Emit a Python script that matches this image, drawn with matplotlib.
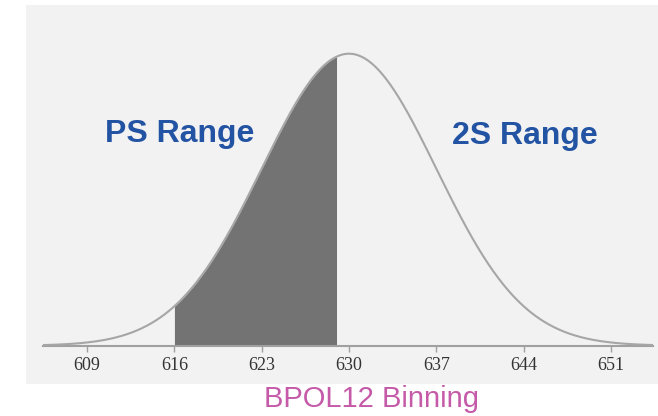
import numpy as np
import matplotlib
matplotlib.use("Agg")
import matplotlib.pyplot as plt

# ---- data ----
MEAN        = 630
SIGMA       = 7
SHADE_RANGE = [616, 629]
TICKS       = [609, 616, 623, 630, 637, 644, 651]
TICK_LABELS = ["609", "616", "623", "630", "637", "644", "651"]
LEFT_LABEL  = "PS Range"
RIGHT_LABEL = "2S Range"
XLABEL      = "BPOL12 Binning"
# --------------

W, H = 658, 416
fig = plt.figure(figsize=(W / 100, H / 100), dpi=100)

# light gray panel behind the chart
bg = fig.add_axes([26 / W, (H - 384) / H, (W - 26) / W, (384 - 5) / H], zorder=-5)
bg.set_facecolor("#f2f2f2")
bg.axis("off")
bg.add_patch(plt.Rectangle((0, 0), 1, 1, transform=bg.transAxes,
                           facecolor="#f2f2f2", edgecolor="none"))

ax_bottom = (H - 345.7) / H
ax_height = 292 * 1.1 / H
ax = fig.add_axes([43 / W, ax_bottom, (653 - 43) / W, ax_height], zorder=1)
ax.set_facecolor("none")

x_lo = MEAN + (43 - 349) / 12.47
x_hi = MEAN + (653 - 349) / 12.47
x = np.linspace(x_lo, x_hi, 600)
y = np.exp(-0.5 * ((x - MEAN) / SIGMA) ** 2)

xs = np.linspace(SHADE_RANGE[0], SHADE_RANGE[1], 300)
ys = np.exp(-0.5 * ((xs - MEAN) / SIGMA) ** 2)
ax.fill_between(xs, 0, ys, color="#737373", linewidth=0, zorder=2)
ax.plot(x, y, color="#a6a6a6", linewidth=1.5, zorder=3)

ax.set_xlim(x_lo, x_hi)
ax.set_ylim(0, 1.1)

for s in ["top", "left", "right"]:
    ax.spines[s].set_visible(False)
ax.spines["bottom"].set_color("#a0a0a0")
ax.spines["bottom"].set_linewidth(1.5)
ax.set_yticks([])
ax.set_xticks(TICKS)
ax.set_xticklabels(TICK_LABELS, family="Liberation Serif", fontsize=13, color="#333333")
ax.tick_params(axis="x", direction="out", length=4, width=1, color="#a0a0a0", pad=4)

ax.text(616.4, 0.725, LEFT_LABEL, ha="center", va="center", fontsize=23,
        fontweight="bold", color="#2353a3", family="Liberation Sans")
ax.text(644.1, 0.718, RIGHT_LABEL, ha="center", va="center", fontsize=23,
        fontweight="bold", color="#2353a3", family="Liberation Sans")

fig.text(371 / W, (H - 399) / H, XLABEL, ha="center", va="center", fontsize=21,
         color="#c45aa8", family="Liberation Sans")

fig.savefig("out.png", dpi=100)
